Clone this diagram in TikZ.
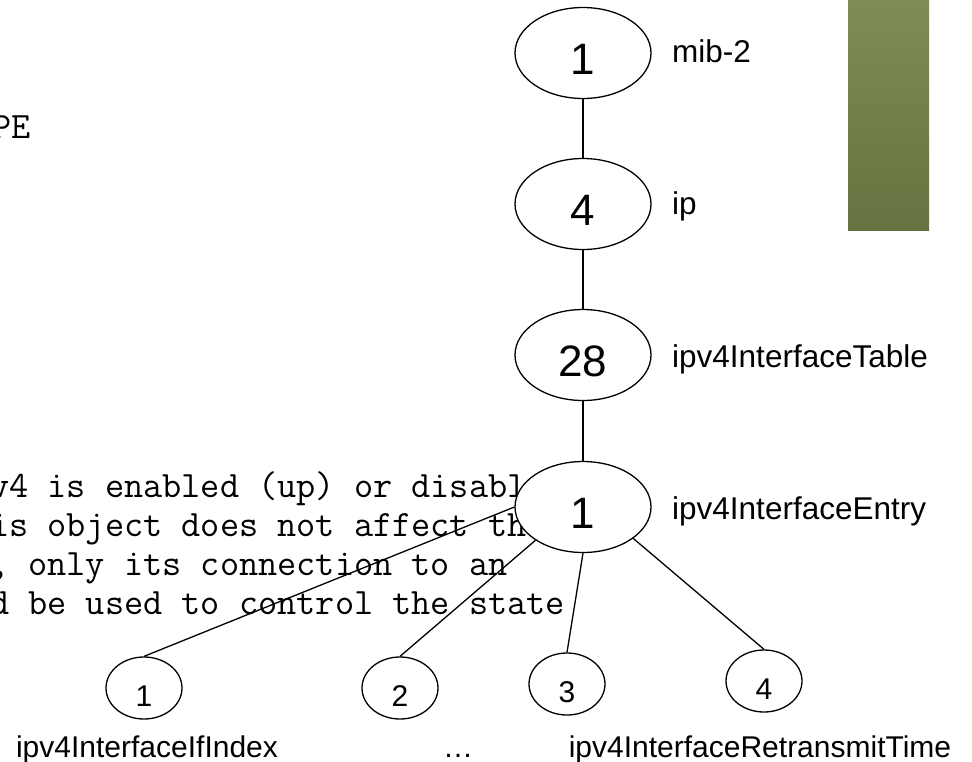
\documentclass[tikz,border=0pt]{standalone}
\usepackage{fontspec}
\setmainfont{Liberation Sans}
\usetikzlibrary{shapes.geometric}
\definecolor{greentop}{RGB}{127,140,86}
\definecolor{greenbot}{RGB}{102,115,64}
\begin{document}
\begin{tikzpicture}[x=1pt,y=-1pt,
  big/.style={ellipse,draw,line width=1.3pt,fill=white,minimum width=136pt,minimum height=91pt,inner sep=0pt,font=\fontsize{44}{44}\selectfont,text height=42pt,text depth=0pt},
  small/.style={ellipse,draw,line width=1.3pt,fill=white,minimum width=76pt,minimum height=62pt,inner sep=0pt,font=\fontsize{30}{30}\selectfont,text height=36pt,text depth=0pt},
  lab/.style={anchor=base west,inner sep=0pt,font=\fontsize{31.5}{31.5}\selectfont},
  blab/.style={anchor=base,inner sep=0pt,font=\fontsize{30}{30}\selectfont},
  code/.style={anchor=base west,inner sep=0pt,font=\ttfamily\fontsize{37.2}{37.2}\selectfont},
  edge/.style={line width=1.3pt}]
\useasboundingbox (0,0) rectangle (972,761);
\clip (0,0) rectangle (972,761);
\fill[white] (0,0) rectangle (972,761);
% green bar
\shade[top color=greentop,bottom color=greenbot] (848,0) rectangle (929,230);
% code text
\node[code] (c0) at (-8,138) {PE};
\node[code] (c1) at (-10,497) {v4 is enabled (up) or disabl};
\node[code] (c2) at (-10,536) {is object does not affect th};
\node[code] (c3) at (-10,575) {, only its connection to an};
\node[code] (c4) at (-10,614) {d be used to control the state};
% tree nodes
\node[big] (n1) at (583,53) {1};
\node[big] (n4) at (583,204) {4};
\node[big] (n28) at (583,355) {28};
\node[big] (ne) at (583,507) {1};
\node[lab] (l1) at (672,62) {mib-2};
\node[lab] (l2) at (672,214) {ip};
\node[lab] (l3) at (672,367) {ipv4InterfaceTable};
\node[lab] (l4) at (672,519) {ipv4InterfaceEntry};
\node[small] (s1) at (144,688) {1};
\node[small] (s2) at (400,688) {2};
\node[small] (s3) at (567,684) {3};
\node[small] (s4) at (764,681) {4};
\node[blab] (b1) at (147,757) {ipv4InterfaceIfIndex};
\node[blab] (b2) at (458,757) {…};
\node[blab] (b3) at (760,757) {ipv4InterfaceRetransmitTime};
% connectors
\draw[edge] (n1) -- (n4);
\draw[edge] (n4) -- (n28);
\draw[edge] (n28) -- (ne);
\draw[edge] (ne.west) -- (s1.north);
\draw[edge] (ne.215) -- (s2.north);
\draw[edge] (ne.south) -- (s3.north);
\draw[edge] (ne.-32) -- (s4.north);
\end{tikzpicture}
\end{document}
